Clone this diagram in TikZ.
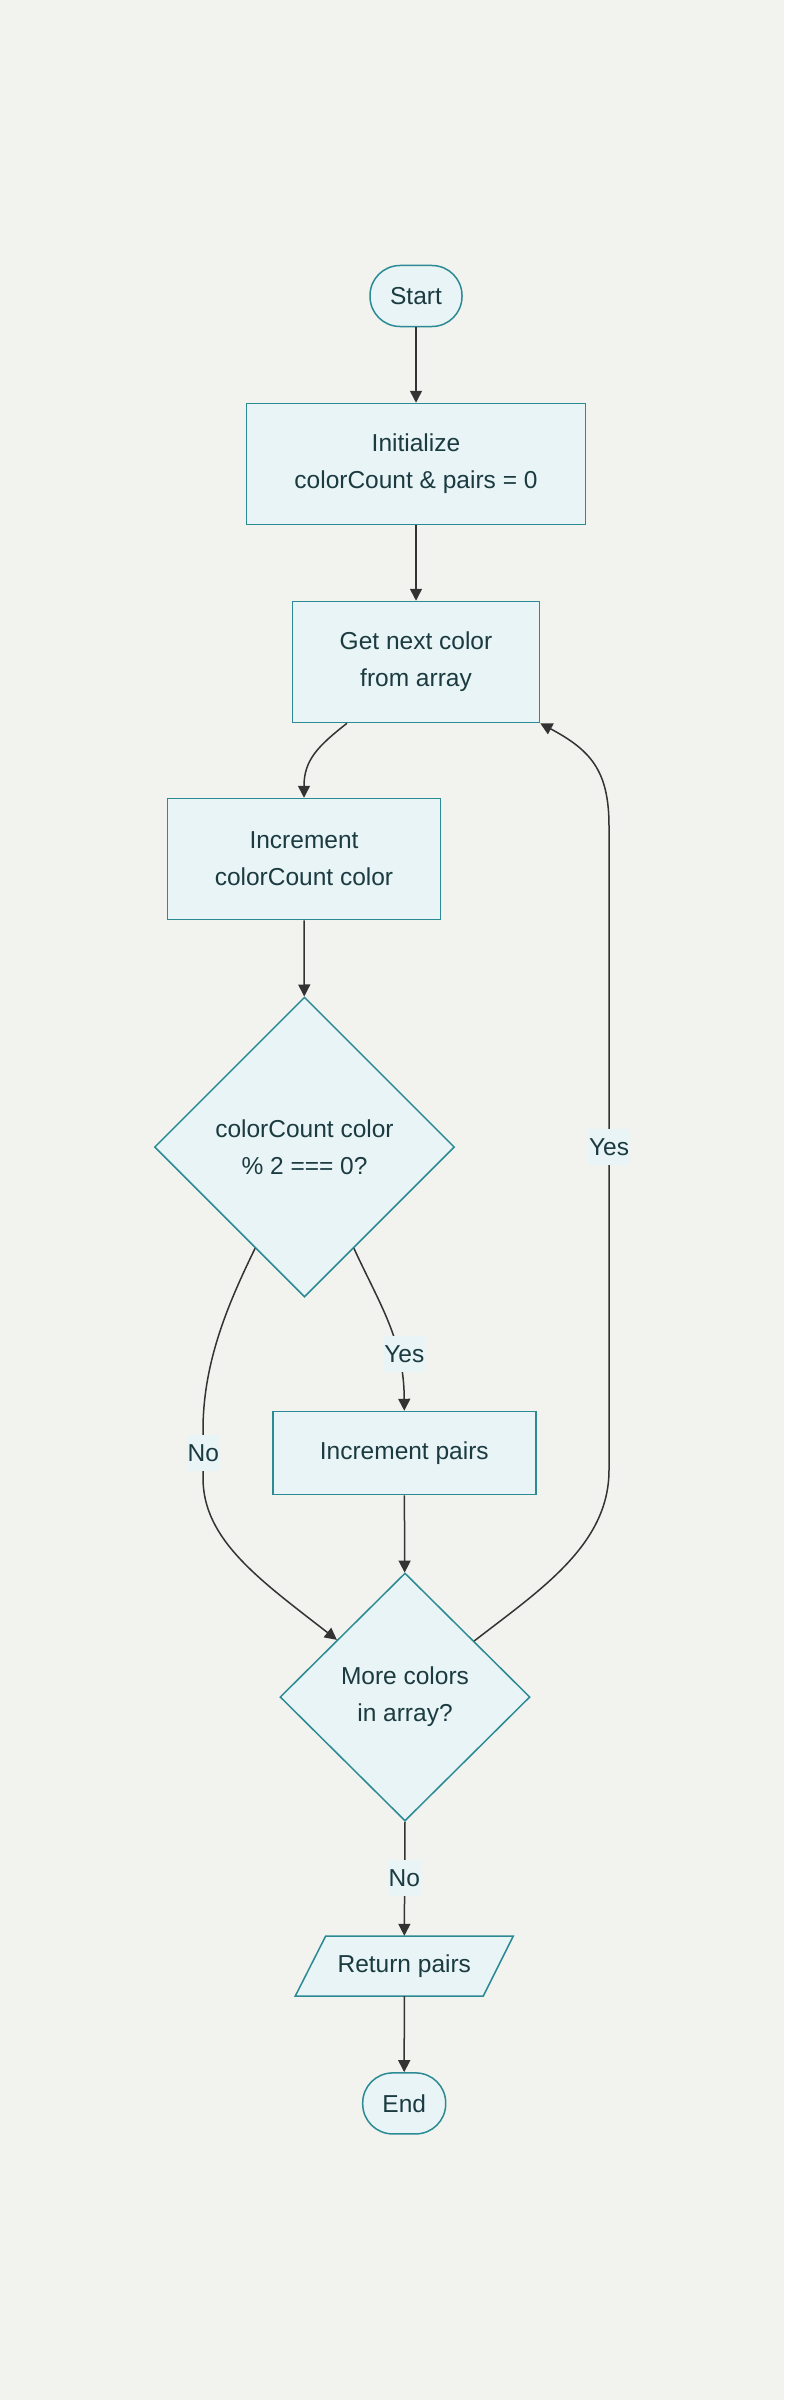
\documentclass[tikz,border=0pt]{standalone}
\usepackage{fontspec}
\setmainfont{Liberation Sans}
\usetikzlibrary{shapes.geometric,arrows.meta}
\definecolor{bg}{HTML}{F2F3EE}
\definecolor{nodefill}{HTML}{E8F4F5}
\definecolor{nodeline}{HTML}{2B8A94}
\definecolor{txt}{HTML}{1B3B41}
\definecolor{edgecol}{HTML}{333333}
\begin{document}
\begin{tikzpicture}[x=1pt,y=-1pt,
  base/.style={draw=nodeline, fill=nodefill, line width=1.5pt, text=txt, font=\fontsize{24.5}{37}\selectfont, align=center, inner sep=0pt},
  procbox/.style={base, rectangle},
  termbox/.style={base, rectangle, rounded corners=30pt},
  decbox/.style={base, diamond, aspect=1},
  lbl/.style={fill=nodefill, text=txt, font=\fontsize{24.5}{30}\selectfont, inner xsep=1pt, inner ysep=0pt, minimum height=36pt},
  conn/.style={draw=edgecol, line width=1.5pt, -{Triangle[length=12pt,width=12pt]}}
]
\fill[bg] (0,0) rectangle (784,2400);
\useasboundingbox (0,0) rectangle (784,2400);

\node[termbox, minimum width=92pt, minimum height=61pt] (start) at (416,296) {Start};
\node[procbox, minimum width=339pt, minimum height=121pt] (init) at (416,464) {Initialize\\colorCount \& pairs = 0};
\node[procbox, minimum width=247pt, minimum height=121pt] (getnext) at (416,662) {Get next color\\from array};
\node[procbox, minimum width=273pt, minimum height=121pt] (incc) at (304,859) {Increment\\colorCount color};
\node[decbox, minimum width=300pt, minimum height=300pt] (d1) at (304.5,1147) {colorCount color\\\% 2 === 0?};
\node[procbox, minimum width=263pt, minimum height=83pt] (incp) at (404.3,1453) {Increment pairs};
\node[decbox, minimum width=250pt, minimum height=248pt] (d2) at (405,1697) {More colors\\in array?};
\path[draw=nodeline, fill=nodefill, line width=1.5pt] (295.3,1996) -- (483.3,1996) -- (513.3,1936) -- (325.7,1936) -- cycle;
\node[text=txt, font=\fontsize{24.5}{37}\selectfont, inner sep=0pt, minimum width=188pt, minimum height=60pt] (ret) at (404.3,1966) {Return pairs};
\node[termbox, minimum width=83pt, minimum height=61pt] (end) at (404.2,2103.4) {End};

\draw[conn] (start) -- (init);
\draw[conn] (init) -- (getnext);
\draw[conn] ([xshift=-69pt]getnext.south) .. controls (318,746) and (304,760) .. (incc.north);
\draw[conn] (incc) -- (d1);
\draw[conn] (d1.-64.6) .. controls (380,1305) and (404,1340) .. (incp.north);
\draw[conn] (d1.-116.3) .. controls (230,1300) and (203,1360) .. (203,1430) -- (203,1478) .. controls (203,1540) and (260,1580) .. (d2.140.7);
\draw[conn] (incp) -- (d2);
\draw[conn] (d2.39) .. controls (540,1590) and (609,1545) .. (609,1470) -- (609,826) .. controls (609,770) and (590,750) .. (getnext.south east);
\draw[conn] (d2.south) -- (ret.north);
\draw[conn] (ret.south) -- (end.north);

\node[lbl] (yes1) at (404.3,1354) {Yes};
\node[lbl] (no1) at (203.3,1453) {No};
\node[lbl] (yes2) at (609,1147) {Yes};
\node[lbl] (no2) at (404.3,1878) {No};
\end{tikzpicture}
\end{document}
